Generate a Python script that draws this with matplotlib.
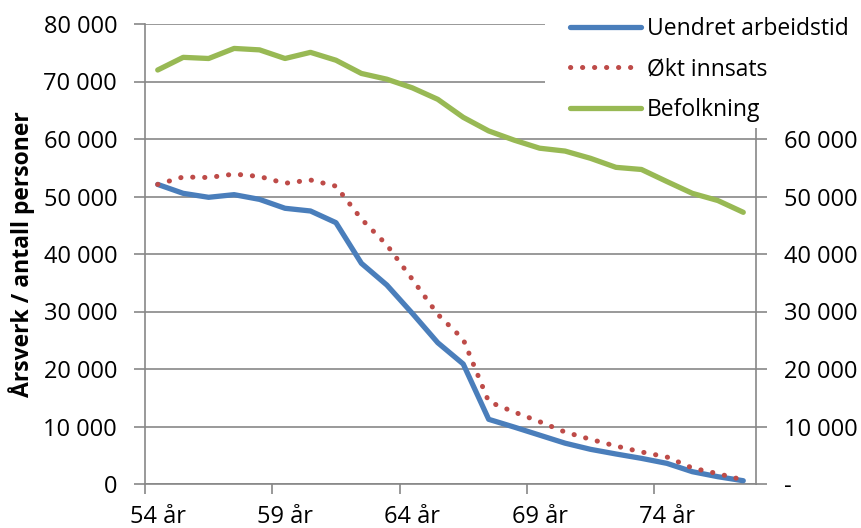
import matplotlib
matplotlib.use("Agg")
import matplotlib.pyplot as plt
from matplotlib.patches import Rectangle
from matplotlib.ticker import FixedLocator, FuncFormatter

# ages 54..77 (one category per year)
ages = list(range(54, 78))
age_labels = [f"{a} år" for a in ages]

# årsverk, unchanged working hours
uendret = [52100, 50550, 49860, 50320, 49500, 47950, 47480, 45450, 38380, 34600,
           29680, 24570, 20870, 11250, 9900, 8500, 7100, 6030, 5220, 4460,
           3590, 2140, 1270, 570]
# årsverk, increased effort
okt = [52100, 53400, 53300, 53900, 53480, 52300, 52870, 51800, 46090, 41570,
       35600, 29500, 25170, 14320, 12520, 10840, 9040, 7770, 6600, 5570,
       4700, 2780, 1800, 700]
# population
befolkning = [72000, 74200, 74000, 75750, 75500, 74000, 75070, 73700, 71400, 70400,
              68900, 66900, 63770, 61400, 59800, 58400, 57900, 56640, 55070, 54700,
              52600, 50550, 49300, 47250]

blue = "#4A7EBB"
red = "#BE4B48"
green = "#98B954"
grid_col = "#878787"

plt.rcParams["font.family"] = ["Open Sans", "DejaVu Sans"]
plt.rcParams["font.size"] = 17

fig = plt.figure(figsize=(8.62, 5.28), dpi=100)
ax = fig.add_axes([145 / 862, 44 / 528, 611 / 862, 460 / 528])

x = list(range(len(ages)))
ax.plot(x, uendret, color=blue, lw=3.8, solid_capstyle="round", label="Uendret arbeidstid", zorder=3)
ax.plot(x, okt, color=red, lw=3.6, linestyle=(0, (0.05, 2.35)), dash_capstyle="round",
        label="Økt innsats", zorder=3)
ax.plot(x, befolkning, color=green, lw=3.8, solid_capstyle="round", label="Befolkning", zorder=3)

ax.set_xlim(-0.5, len(ages) - 0.5)
ax.set_ylim(0, 80000)

# category boundaries carry the tick marks, labels sit on the category centres
ax.xaxis.set_major_locator(FixedLocator([i - 0.5 for i in range(0, len(ages), 5)]))
ax.xaxis.set_major_formatter(FuncFormatter(lambda v, p: ""))
ax.xaxis.set_minor_locator(FixedLocator(list(range(0, len(ages), 5))))
ax.xaxis.set_minor_formatter(FuncFormatter(lambda v, p: age_labels[int(round(v))]))
ax.tick_params(axis="x", which="major", length=7, width=1.2, color=grid_col)
ax.tick_params(axis="x", which="minor", length=0, pad=15)

ax.set_yticks(range(0, 80001, 10000))
ax.yaxis.set_major_formatter(FuncFormatter(lambda v, p: f"{int(v):,}".replace(",", " ")))
ax.tick_params(axis="y", length=8, width=1.2, color=grid_col, pad=12)
ax.grid(axis="y", color=grid_col, lw=1.2)
ax.set_axisbelow(True)

for side in ["top", "right"]:
    ax.spines[side].set_visible(False)
for side in ["left", "bottom"]:
    ax.spines[side].set_color(grid_col)
    ax.spines[side].set_linewidth(1.2)

ax.set_ylabel("Årsverk / antall personer", fontweight="bold", fontsize=16.5, labelpad=6)

# secondary axis on the right, same scale
ax2 = ax.twinx()
ax2.set_ylim(0, 80000)
ax2.set_yticks(range(0, 60001, 10000))
ax2.yaxis.set_major_formatter(FuncFormatter(lambda v, p: "-" if v == 0 else f"{int(v):,}".replace(",", " ")))
ax2.tick_params(axis="y", length=8, width=1.2, color=grid_col, pad=12)
for side in ["top", "left", "bottom"]:
    ax2.spines[side].set_visible(False)
ax2.spines["right"].set_color(grid_col)
ax2.spines["right"].set_linewidth(1.2)

# white legend area in the top right corner
fig.patches.append(Rectangle((545 / 862, 1 - 128 / 528), 317 / 862, 128 / 528,
                             transform=fig.transFigure, facecolor="white",
                             edgecolor="none", zorder=4))
handles, labels = ax.get_legend_handles_labels()
fig.legend(handles, labels, loc="upper left", bbox_to_anchor=(570 / 862, 1 - 17 / 528),
           frameon=False, handlelength=3.1, handletextpad=0.25, labelspacing=0.72,
           borderpad=0, borderaxespad=0, fontsize=16.5)

fig.savefig("out.png", dpi=100)
